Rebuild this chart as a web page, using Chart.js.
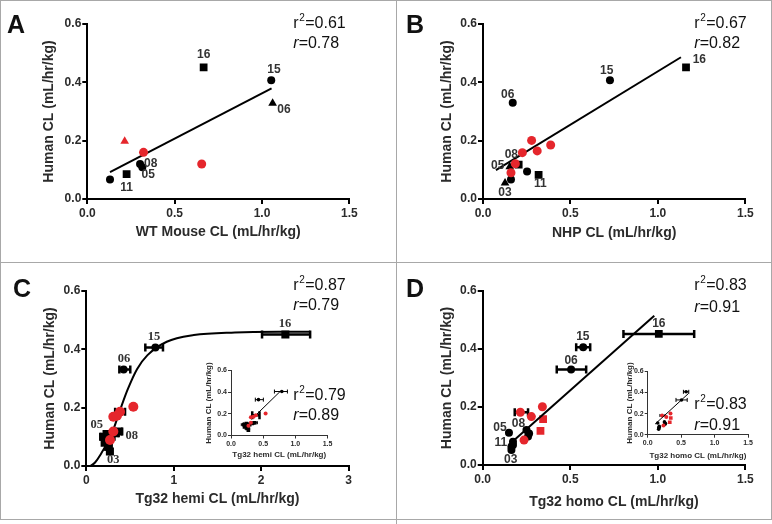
<!DOCTYPE html>
<html lang="en">
<head>
<meta charset="UTF-8">
<title>Human CL vs preclinical CL</title>
<script src="https://cdn.jsdelivr.net/npm/chart.js@4"></script>
<style>
  body { margin: 0; background: #fff; }
  #fig { position: relative; width: 772px; height: 524px; overflow: hidden; background: #fff; }
  .panel { position: absolute; }
  .panel canvas { position: absolute; }
  .rule { position: absolute; background: #a8a8a8; }
</style>
</head>
<body>
<div id="fig">
  <div class="panel" style="left:0;top:0;width:396px;height:262px">
    <canvas id="cA" width="396" height="262" style="left:0;top:0"></canvas>
  </div>
  <div class="panel" style="left:396px;top:0;width:376px;height:262px">
    <canvas id="cB" width="376" height="262" style="left:0;top:0"></canvas>
  </div>
  <div class="panel" style="left:0;top:262px;width:396px;height:262px">
    <canvas id="cC" width="396" height="262" style="left:0;top:0"></canvas>
    <canvas id="cCi" width="155" height="135" style="left:185px;top:68px"></canvas>
  </div>
  <div class="panel" style="left:396px;top:262px;width:376px;height:262px">
    <canvas id="cD" width="376" height="262" style="left:0;top:0"></canvas>
    <canvas id="cDi" width="165" height="135" style="left:204px;top:68px"></canvas>
  </div>
  <!-- panel frame -->
  <div class="rule" style="left:0;top:0;width:772px;height:1px"></div>
  <div class="rule" style="left:0;top:0;width:1px;height:520px"></div>
  <div class="rule" style="left:771px;top:0;width:1px;height:520px"></div>
  <div class="rule" style="left:0;top:519px;width:772px;height:1px"></div>
  <div class="rule" style="left:396px;top:0;width:1px;height:524px"></div>
  <div class="rule" style="left:0;top:262px;width:772px;height:1px"></div>
</div>

<script>
// ---------- data (x = preclinical CL, y = human CL, mL/hr/kg) ----------

// A: WT mouse
const aBlackCircle   = [[0.13, 0.067], [0.302, 0.12], [0.315, 0.109], [1.053, 0.407]];
const aBlackSquare   = [[0.225, 0.085], [0.666, 0.451]];
const aBlackTriangle = [[1.061, 0.328]];
const aRedCircle     = [[0.322, 0.16], [0.655, 0.12]];
const aRedTriangle   = [[0.214, 0.198]];
const aFit           = [[0.13, 0.092], [1.055, 0.379]];
const aLabelText = ['16', '15', '06', '08', '05', '11'];
const aLabelX    = [0.666, 1.069, 1.126, 0.363, 0.349, 0.225];
const aLabelY    = [0.494, 0.442, 0.307, 0.122, 0.082, 0.04];

// B: NHP
const bBlackCircle   = [[0.726, 0.407], [0.17, 0.33], [0.252, 0.094], [0.16, 0.067]];
const bBlackSquare   = [[1.161, 0.451], [0.318, 0.083], [0.204, 0.118]];
const bBlackTriangle = [[0.153, 0.111], [0.126, 0.055]];
const bRedCircle     = [[0.278, 0.201], [0.387, 0.185], [0.225, 0.159], [0.31, 0.165], [0.185, 0.121], [0.16, 0.09]];
const bFit           = [[0.074, 0.099], [1.132, 0.486]];
const bLabelText = ['16', '15', '06', '08', '05', '03', '11'];
const bLabelX    = [1.237, 0.707, 0.141, 0.162, 0.084, 0.126, 0.328];
const bLabelY    = [0.479, 0.44, 0.359, 0.151, 0.113, 0.022, 0.051];

// C: Tg32 hemi
const cSquare16       = [[2.277, 0.451]];
const cSquare16Err    = [[2.01, 2.56]];
const cBlackCircle    = [[0.79, 0.406], [0.427, 0.331]];
const cBlackCircleErr = [[0.675, 0.877], [0.378, 0.503]];
const cBlackSquare    = [[0.20, 0.10], [0.24, 0.11], [0.29, 0.10], [0.21, 0.08], [0.25, 0.066],
                         [0.27, 0.05], [0.33, 0.112], [0.37, 0.118], [0.22, 0.09]];
const cBlackSquareErr = [[0.16, 0.25], [0.2, 0.28], null, null, [0.22, 0.29], null, [0.29, 0.37], [0.33, 0.41], null];
const cRedCircle      = [[0.538, 0.203], [0.386, 0.186], [0.309, 0.169], [0.35, 0.172], [0.309, 0.118], [0.271, 0.089]];
const cRedCircleErr   = [null, [0.33, 0.443]];
const cCurve = [[0.05, 0], [0.10, 0.012], [0.16, 0.038], [0.29, 0.11], [0.39, 0.195], [0.47, 0.26], [0.58, 0.332],
                [0.70, 0.38], [0.92, 0.426], [1.23, 0.449], [1.7, 0.458], [2.2, 0.46], [2.56, 0.46]];
const cInsetFit  = [[0.32, 0.15], [0.77, 0.41]];
const cLabelText = ['16', '15', '06', '05', '08', '03'];
const cLabelX    = [2.273, 0.775, 0.431, 0.119, 0.519, 0.309];
const cLabelY    = [0.488, 0.442, 0.368, 0.14, 0.105, 0.02];

// D: Tg32 homo
const dSquare16       = [[1.006, 0.452]];
const dSquare16Err    = [[0.804, 1.208]];
const dBlackCircle    = [[0.574, 0.406], [0.505, 0.329], [0.15, 0.111], [0.25, 0.121], [0.259, 0.098],
                         [0.173, 0.08], [0.164, 0.063], [0.164, 0.052], [0.173, 0.069], [0.265, 0.109]];
const dBlackCircleErr = [[0.534, 0.614], [0.423, 0.591]];
const dRedCircle      = [[0.215, 0.182], [0.341, 0.201], [0.278, 0.167], [0.236, 0.086]];
const dRedCircleErr   = [[0.183, 0.259]];
const dRedSquare      = [[0.345, 0.158], [0.33, 0.118]];
const dFit            = [[0.15, 0.07], [0.98, 0.515]];
const dInsetFit       = [[0.11, 0.10], [0.61, 0.39]];
const dLabelText = ['16', '15', '06', '05', '08', '11', '03'];
const dLabelX    = [1.006, 0.572, 0.505, 0.099, 0.204, 0.103, 0.16];
const dLabelY    = [0.487, 0.441, 0.361, 0.127, 0.144, 0.077, 0.017];

// ---------- drawing helpers ----------
const SANS = '"Liberation Sans", Arial, sans-serif';
const SERIF = '"Liberation Serif", "Times New Roman", serif';
const RED = '#e5262c';
const INK = '#2b2b2b';

const pts = a => a.map(([x, y]) => ({ x, y }));

function markers(points, style, color, radius, err) {
    return { data: pts(points), pointStyle: style, pointRadius: radius, pointHoverRadius: radius,
             backgroundColor: color, borderColor: color, borderWidth: 0, showLine: false, err: err };
}

function fitLine(points, width, smooth) {
    return { data: pts(points), showLine: true, pointRadius: 0, borderColor: '#000', backgroundColor: '#000',
             borderWidth: width, cubicInterpolationMode: smooth ? 'monotone' : 'default', fill: false };
}

// horizontal SD bars, drawn under the markers
const errorBars = {
    id: 'errorBars',
    beforeDatasetsDraw(chart) {
        const { ctx, scales: { x, y } } = chart;
        chart.data.datasets.forEach(ds => {
            if (!ds.err) return;
            ctx.save();
            ctx.strokeStyle = '#000';
            ctx.lineWidth = ds.errWidth || 2.5;
            const cap = ds.errCap || 4;
            ds.err.forEach((e, i) => {
                if (!e) return;
                const py = y.getPixelForValue(ds.data[i].y);
                const x1 = x.getPixelForValue(e[0]), x2 = x.getPixelForValue(e[1]);
                ctx.beginPath();
                ctx.moveTo(x1, py); ctx.lineTo(x2, py);
                ctx.moveTo(x1, py - cap); ctx.lineTo(x1, py + cap);
                ctx.moveTo(x2, py - cap); ctx.lineTo(x2, py + cap);
                ctx.stroke();
            });
            ctx.restore();
        });
    }
};

function drawStats(ctx, s) {
    ctx.fillStyle = '#111';
    ctx.textAlign = 'left';
    ctx.textBaseline = 'alphabetic';
    ctx.font = '16px ' + SANS;
    const wr = ctx.measureText('r').width;
    ctx.fillText('r', s.x, s.y1);
    ctx.font = '10px ' + SANS;
    const w2 = ctx.measureText('2').width;
    ctx.fillText('2', s.x + wr + 0.5, s.y1 - 7);
    ctx.font = '16px ' + SANS;
    ctx.fillText('=' + s.r2, s.x + wr + w2 + 1, s.y1);
    ctx.font = 'italic 16px ' + SANS;
    const wi = ctx.measureText('r').width;
    ctx.fillText('r', s.x, s.y2);
    ctx.font = '16px ' + SANS;
    ctx.fillText('=' + s.r, s.x + wi, s.y2);
}

// panel letter, point ids and r / r2 text
function notes(n) {
    return {
        id: 'notes',
        afterDraw(chart) {
            const { ctx, scales: { x, y } } = chart;
            ctx.save();
            if (n.letter) {
                ctx.font = 'bold 25px ' + SANS;
                ctx.fillStyle = '#111';
                ctx.textAlign = 'left';
                ctx.textBaseline = 'alphabetic';
                ctx.fillText(n.letter, n.letterAt[0], n.letterAt[1]);
            }
            if (n.labels) {
                ctx.font = n.labelFont;
                ctx.fillStyle = '#333';
                ctx.textAlign = 'center';
                ctx.textBaseline = 'middle';
                n.labels[0].forEach((t, i) =>
                    ctx.fillText(t, x.getPixelForValue(n.labels[1][i]), y.getPixelForValue(n.labels[2][i])));
            }
            (n.stats || []).forEach(s => drawStats(ctx, s));
            ctx.restore();
        }
    };
}

function axis(o) {
    return {
        type: 'linear', min: o.min, max: o.max,
        ticks: { stepSize: o.step, autoSkip: false, maxRotation: 0, padding: o.pad, color: INK,
                 font: { family: SANS, size: o.tickSize, weight: 'bold' }, callback: v => o.fmt(v) },
        grid: { drawOnChartArea: false, drawTicks: true, tickLength: o.tl, color: o.line, lineWidth: o.lw },
        border: { display: true, color: o.line, width: o.lw },
        title: { display: true, text: o.title, color: INK, padding: 0,
                 font: { family: SANS, size: o.titleSize, weight: 'bold' } },
        afterFit: s => { if (s.isHorizontal()) s.height = o.box; else s.width = o.box; }
    };
}

const one = v => v.toFixed(1);
const whole = v => String(Math.round(v));
const main = { tickSize: 12, titleSize: 14, tl: 5, lw: 2, line: '#000' };
const small = { tickSize: 7, titleSize: 8, tl: 3, lw: 1, line: '#333', pad: 1 };
const humanY = Object.assign({}, main, { min: 0, max: 0.6, step: 0.2, fmt: one, pad: 1, title: 'Human CL (mL/hr/kg)' });

function panel(id, cfg) {
    return new Chart(document.getElementById(id), {
        type: 'scatter',
        data: { datasets: cfg.datasets },
        options: {
            responsive: false, animation: false, events: [],
            layout: { padding: cfg.pad },
            plugins: { legend: { display: false }, tooltip: { enabled: false } },
            scales: { x: axis(cfg.x), y: axis(cfg.y) }
        },
        plugins: [errorBars, notes(cfg.notes || {})]
    });
}

// ---------- A ----------
panel('cA', {
    pad: { left: 40.6, top: 24, right: 46.7, bottom: 21.1 },
    x: Object.assign({}, main, { min: 0, max: 1.5, step: 0.5, fmt: one, pad: 2, box: 41.9, title: 'WT Mouse CL (mL/hr/kg)' }),
    y: Object.assign({}, humanY, { box: 46.7 }),
    datasets: [
        markers(aRedCircle, 'circle', RED, 4.5),
        markers(aRedTriangle, 'triangle', RED, 5),
        fitLine(aFit, 2),
        markers(aBlackCircle, 'circle', '#000', 4),
        markers(aBlackSquare, 'rect', '#000', 5.5),
        markers(aBlackTriangle, 'triangle', '#000', 5)
    ],
    notes: { letter: 'A', letterAt: [7, 33], labels: [aLabelText, aLabelX, aLabelY], labelFont: 'bold 12px ' + SANS,
             stats: [{ r2: '0.61', r: '0.78', x: 293.3, y1: 28.3, y2: 48.3 }] }
});

// ---------- B ----------
panel('cB', {
    pad: { left: 42.6, top: 24, right: 26.7, bottom: 20.3 },
    x: Object.assign({}, main, { min: 0, max: 1.5, step: 0.5, fmt: one, pad: 2, box: 42.7, title: 'NHP CL (mL/hr/kg)' }),
    y: Object.assign({}, humanY, { box: 44.4 }),
    datasets: [
        markers(bRedCircle, 'circle', RED, 4.5),
        fitLine(bFit, 2),
        markers(bBlackCircle, 'circle', '#000', 4),
        markers(bBlackSquare, 'rect', '#000', 5.5),
        markers(bBlackTriangle, 'triangle', '#000', 5)
    ],
    notes: { letter: 'B', letterAt: [10, 33], labels: [bLabelText, bLabelX, bLabelY], labelFont: 'bold 12px ' + SANS,
             stats: [{ r2: '0.67', r: '0.82', x: 298.3, y1: 28.3, y2: 48.3 }] }
});

// ---------- C ----------
panel('cC', {
    pad: { left: 41.6, top: 29, right: 47.4, bottom: 16.9 },
    x: Object.assign({}, main, { min: 0, max: 3, step: 1, fmt: whole, pad: 2, box: 41.1, title: 'Tg32 hemi CL (mL/hr/kg)' }),
    y: Object.assign({}, humanY, { box: 44.7 }),
    datasets: [
        markers(cRedCircle, 'circle', RED, 5, cRedCircleErr),
        fitLine(cCurve, 2, true),
        markers(cBlackCircle, 'circle', '#000', 4, cBlackCircleErr),
        markers(cBlackSquare, 'rect', '#000', 5.7, cBlackSquareErr),
        markers(cSquare16, 'rect', '#000', 5.7, cSquare16Err)
    ],
    notes: { letter: 'C', letterAt: [13, 35], labels: [cLabelText, cLabelX, cLabelY], labelFont: 'bold 12.5px ' + SERIF,
             stats: [{ r2: '0.87', r: '0.79', x: 293.3, y1: 28.3, y2: 48.3 },
                     { r2: '0.79', r: '0.89', x: 293.3, y1: 138.3, y2: 158.3 }] }
});

panel('cCi', {
    pad: { left: 19.2, top: 40.5, right: 12.5, bottom: 5.5 },
    x: Object.assign({}, small, { min: 0, max: 1.5, step: 0.5, fmt: one, box: 24, title: 'Tg32 hemi CL (mL/hr/kg)' }),
    y: Object.assign({}, small, { min: 0, max: 0.6, step: 0.2, fmt: one, box: 26.8, title: 'Human CL (mL/hr/kg)' }),
    datasets: [
        markers(cRedCircle, 'circle', RED, 2, cRedCircleErr),
        fitLine(cInsetFit, 1),
        Object.assign(markers(cBlackCircle, 'circle', '#000', 1.8, cBlackCircleErr), { errWidth: 1, errCap: 2 }),
        Object.assign(markers(cBlackSquare, 'rect', '#000', 2.6, cBlackSquareErr), { errWidth: 1, errCap: 1.5 })
    ]
});

// ---------- D ----------
panel('cD', {
    pad: { left: 42.6, top: 29, right: 26.7, bottom: 13.6 },
    x: Object.assign({}, main, { min: 0, max: 1.5, step: 0.5, fmt: one, pad: 2, box: 45.4, title: 'Tg32 homo CL (mL/hr/kg)' }),
    y: Object.assign({}, humanY, { box: 44.1 }),
    datasets: [
        fitLine(dFit, 2),
        markers(dRedCircle, 'circle', RED, 4.5, dRedCircleErr),
        markers(dRedSquare, 'rect', RED, 5.5),
        markers(dBlackCircle, 'circle', '#000', 4, dBlackCircleErr),
        markers(dSquare16, 'rect', '#000', 5.5, dSquare16Err)
    ],
    notes: { letter: 'D', letterAt: [10, 35], labels: [dLabelText, dLabelX, dLabelY], labelFont: 'bold 12px ' + SANS,
             stats: [{ r2: '0.83', r: '0.91', x: 298.3, y1: 28.3, y2: 50 },
                     { r2: '0.83', r: '0.91', x: 298.3, y1: 146.7, y2: 168.3 }] }
});

panel('cDi', {
    pad: { left: 24.7, top: 41.3, right: 17, bottom: 4.9 },
    x: Object.assign({}, small, { min: 0, max: 1.5, step: 0.5, fmt: one, box: 25.4, title: 'Tg32 homo CL (mL/hr/kg)' }),
    y: Object.assign({}, small, { min: 0, max: 0.6, step: 0.2, fmt: one, box: 23, title: 'Human CL (mL/hr/kg)' }),
    datasets: [
        fitLine(dInsetFit, 1),
        Object.assign(markers(dRedCircle, 'circle', RED, 2, dRedCircleErr), { errWidth: 1, errCap: 1.5 }),
        markers(dRedSquare, 'rect', RED, 2.6),
        Object.assign(markers(dBlackCircle, 'circle', '#000', 1.8, dBlackCircleErr), { errWidth: 1, errCap: 2 })
    ]
});
</script>
</body>
</html>
